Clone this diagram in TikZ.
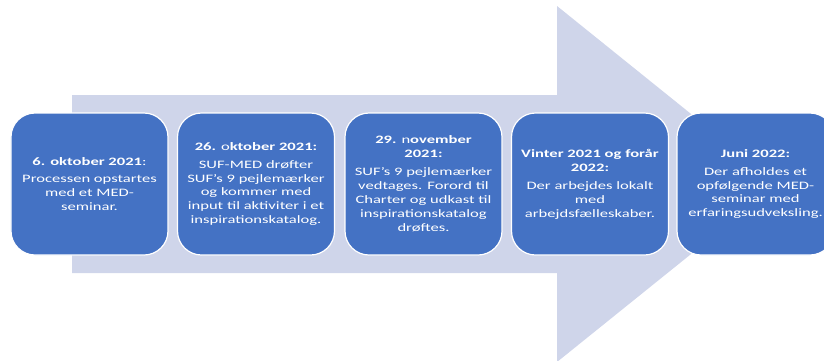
\documentclass[tikz,border=0pt]{standalone}
\usepackage{fontspec}
\setmainfont{Carlito}[FakeStretch=1.46]
\usepackage{tikz}
\usetikzlibrary{positioning}
\definecolor{arrow-grey}{HTML}{CFD5EA}
\definecolor{office-blue}{HTML}{4472C4}

\begin{document}
\begin{tikzpicture}[x=1bp, y=-1bp,
	milestone/.style={draw=white, line width=1.2bp, fill=office-blue, rounded corners=24bp,
		minimum width=157bp, minimum height=142bp, inner sep=0pt,
		text=white, align=center, font=\fontsize{11.4}{14}\selectfont}]
					\useasboundingbox (0,0) rectangle (824,360);
					\clip (0,0) rectangle (824,360);
					
					% big arrow behind the boxes
					\fill[arrow-grey] (72,95) -- (557,95) -- (557,6) -- (778,184) -- (557,362) -- (557,273) -- (72,273) -- cycle;
					
					\node[milestone] at (89.5,184) (oct6) {{\bfseries 6. oktober 2021}:\\[4bp] Processen opstartes\\ med et MED-\\ seminar.};
					\node[milestone] at (256,184) (oct26) {{\bfseries 26. }o{\bfseries ktober 2021:}\\[4bp] SUF-MED drøfter\\ SUF's 9 pejlemærker\\ og kommer med\\ input til aktiviter i et\\ inspirationskatalog.};
					\node[milestone] at (423.5,184) (nov29) {{\bfseries 29. }n{\bfseries ovember}\\ {\bfseries 2021:}\\[4bp] SUF's 9 pejlemærker\\ vedtages. Forord til\\ Charter og udkast til\\ inspirationskatalog\\ drøftes.};
					\node[milestone] at (590,184) (winter) {{\bfseries Vinter 2021 og forår}\\ {\bfseries 2022:}\\[4bp] Der arbejdes lokalt\\ med\\ arbejdsfælleskaber.};
					\node[milestone] at (755.5,184) (june) {{\bfseries Juni 2022:}\\[4bp] Der afholdes et\\ opfølgende MED-\\ seminar med\\ erfaringsudveksling.};
\end{tikzpicture}
\end{document}
